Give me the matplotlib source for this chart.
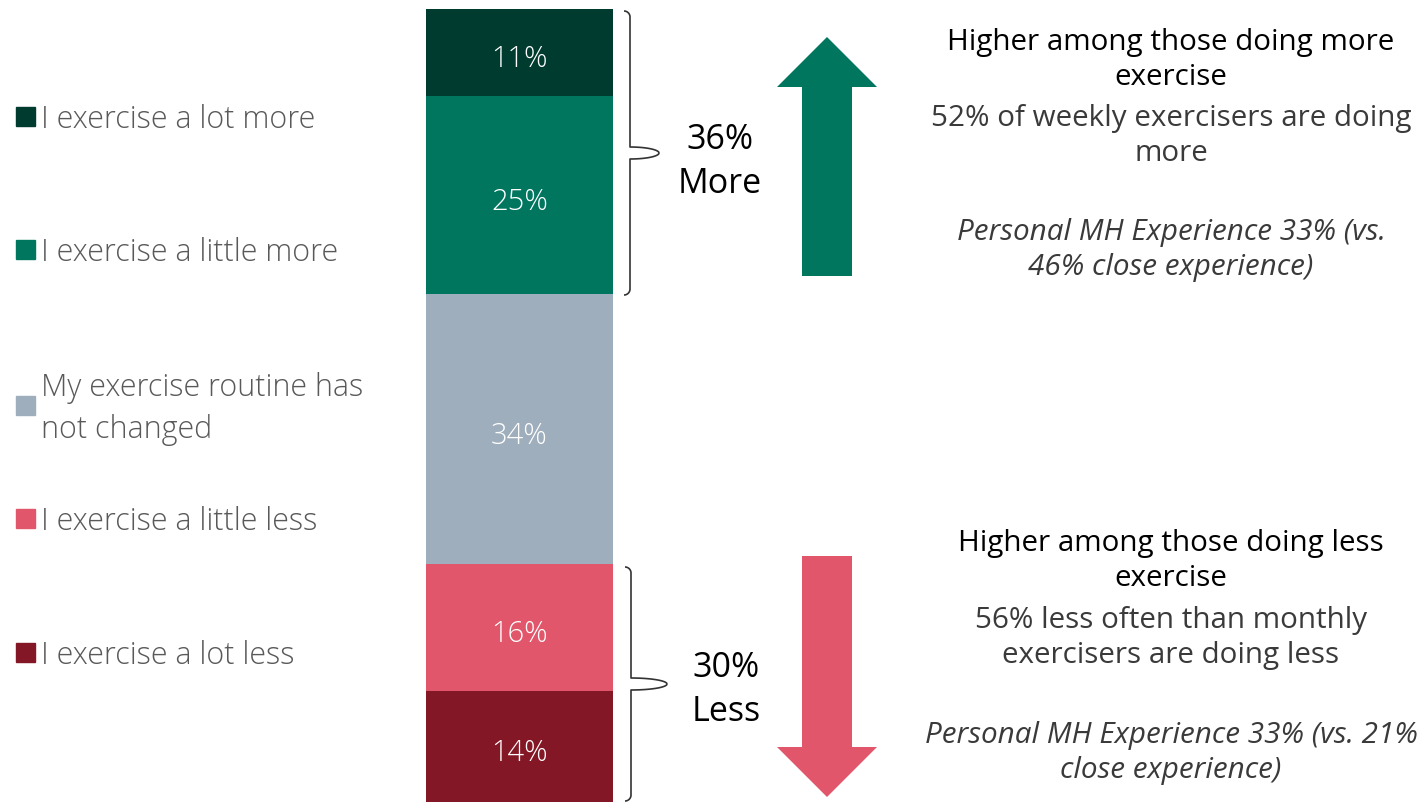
import matplotlib
matplotlib.use("Agg")
import matplotlib.pyplot as plt
from matplotlib.patches import FancyArrow
import numpy as np

# Data
categories = ["I exercise a lot more", "I exercise a little more",
              "My exercise routine has\nnot changed", "I exercise a little less",
              "I exercise a lot less"]
values = [11, 25, 34, 16, 14]
colors = ["#003B30", "#00765F", "#9FAEBC", "#E1566A", "#841726"]
more_label = "36%\nMore"
less_label = "30%\nLess"
more_title = "Higher among those doing more\nexercise"
more_body = "52% of weekly exercisers are doing\nmore"
more_note = "Personal MH Experience 33% (vs.\n46% close experience)"
less_title = "Higher among those doing less\nexercise"
less_body = "56% less often than monthly\nexercisers are doing less"
less_note = "Personal MH Experience 33% (vs. 21%\nclose experience)"

plt.rcParams["font.family"] = ["Open Sans", "DejaVu Sans"]

W, H = 1425, 804
fig = plt.figure(figsize=(W / 100, H / 100), dpi=100)
fig.patch.set_facecolor("white")

# stacked bar axes (pixel box 426..613 x 10..803)
bx0, bx1, by0, by1 = 426, 613, 10, 803
bax = fig.add_axes([bx0 / W, 1 - by1 / H, (bx1 - bx0) / W, (by1 - by0) / H])
bottoms = np.concatenate([[0], np.cumsum(values)[:-1]])
for v, b, c in zip(values, bottoms, colors):
    bax.bar(0, v, bottom=b, color=c, width=1.0)
    bax.annotate(f"{v}%", xy=(0, b + v / 2), xytext=(0, -4), textcoords="offset points",
                 color="white", ha="center", va="center",
                 fontsize=21, fontweight="light")
bax.set_xlim(-0.5, 0.5)
bax.set_ylim(100, 0)
bax.axis("off")

# overlay axes in pixel coordinates
ax = fig.add_axes([0, 0, 1, 1], zorder=-1)
ax.set_xlim(0, W)
ax.set_ylim(H, 0)
ax.axis("off")

# legend
leg_y = [118, 251, 407, 520, 654]
for lab, c, y in zip(categories, colors, leg_y):
    ax.add_patch(plt.Rectangle((16, y - 10), 19, 19, color=c))
    ax.text(41, y + 2, lab, ha="left", va="center", fontsize=22, color="#595959",
            fontweight="light", linespacing=1.4)


def brace(x0, y0, y1, tip, lw=1.2):
    ym = (y0 + y1) / 2
    r = 6
    t = np.linspace(0, 1, 20)
    path_x = np.concatenate([x0 + r * np.sin(t * np.pi / 2),
                             [x0 + r, x0 + r],
                             x0 + r + (tip - x0 - r) * np.sin(t * np.pi / 2)])
    path_y = np.concatenate([y0 + r * (1 - np.cos(t * np.pi / 2)),
                             [y0 + r, ym - r],
                             ym - r + r * (1 - np.cos(t * np.pi / 2))])
    ax.plot(path_x, path_y, color="#333333", lw=lw, solid_capstyle="butt")
    ax.plot(path_x, 2 * ym - path_y, color="#333333", lw=lw, solid_capstyle="butt")


brace(624, 12, 296, 659)
brace(625, 568, 802, 667)

ax.text(720, 162, more_label, ha="center", va="center", fontsize=24.5,
        color="black", linespacing=1.35)
ax.text(726, 690, less_label, ha="center", va="center", fontsize=24.5,
        color="black", linespacing=1.35)

# arrows
ax.add_patch(FancyArrow(827, 277, 0, -239, width=50, head_width=100,
                        head_length=50, length_includes_head=True,
                        color="#00765F", lw=0))
ax.add_patch(FancyArrow(827, 557, 0, 241, width=50, head_width=100,
                        head_length=50, length_includes_head=True,
                        color="#E1566A", lw=0))

# annotations
fs = 21.3
ls = 1.3
ax.text(1171, 60, more_title, ha="center", va="center", fontsize=fs, color="black",
        linespacing=ls)
ax.text(1171, 136, more_body, ha="center", va="center", fontsize=fs,
        color="#3A3A3A", linespacing=ls)
ax.text(1171, 250, more_note, ha="center", va="center", fontsize=fs,
        color="#3A3A3A", style="italic", linespacing=ls)

ax.text(1171, 561, less_title, ha="center", va="center", fontsize=fs, color="black",
        linespacing=ls)
ax.text(1171, 638, less_body, ha="center", va="center", fontsize=fs,
        color="#3A3A3A", linespacing=ls)
ax.text(1171, 753, less_note, ha="center", va="center", fontsize=fs,
        color="#3A3A3A", style="italic", linespacing=ls)

fig.savefig("out.png", dpi=100, facecolor="white")
